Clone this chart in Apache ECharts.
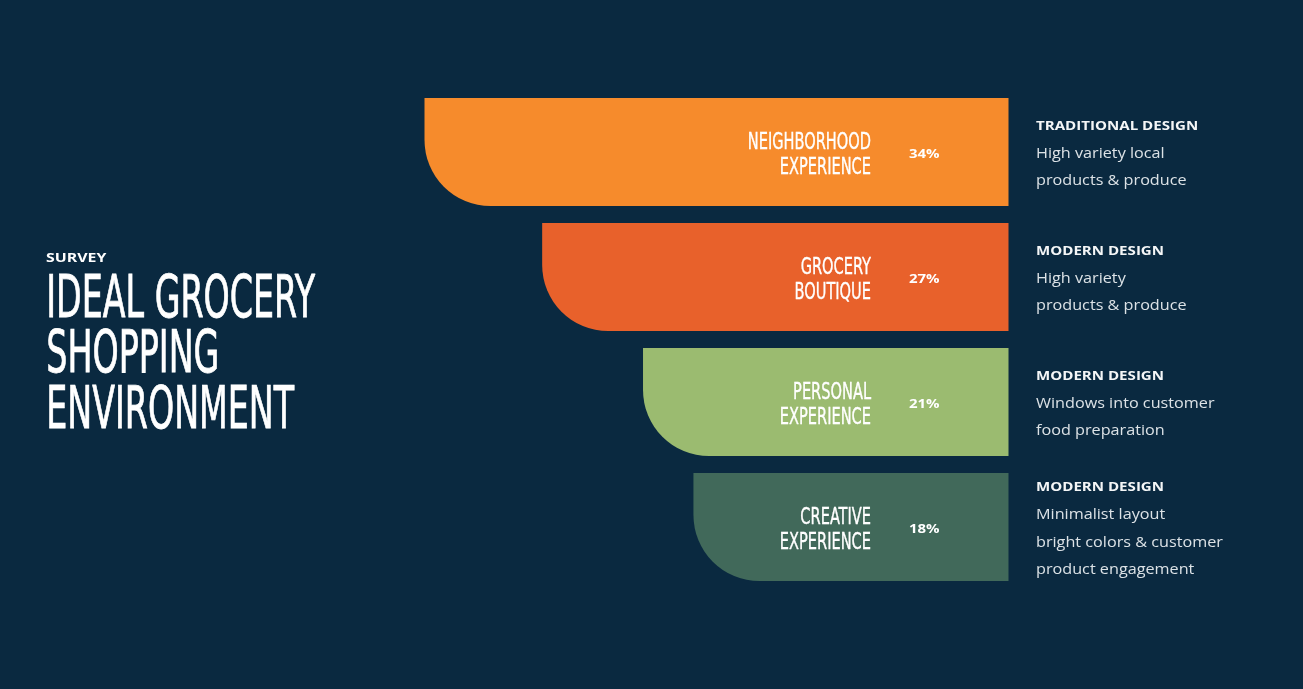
<!DOCTYPE html>
<html><head><meta charset="utf-8">
<script src="https://cdn.jsdelivr.net/npm/echarts@6/dist/echarts.min.js"></script>
<style>html,body{margin:0;padding:0;background:#0a2940;}#c{width:1303px;height:689px;}</style>
</head><body><div id="c"></div>
<script>
const categories = ['NEIGHBORHOOD\nEXPERIENCE', 'GROCERY\nBOUTIQUE', 'PERSONAL\nEXPERIENCE', 'CREATIVE\nEXPERIENCE'];
const values = [34, 27, 21, 18];
const colors = ['#f68b2c', '#e8612b', '#9bbb70', '#41695a'];
const designTypes = ['TRADITIONAL DESIGN', 'MODERN DESIGN', 'MODERN DESIGN', 'MODERN DESIGN'];
const descriptions = [
  ['High variety local', 'products & produce'],
  ['High variety', 'products & produce'],
  ['Windows into customer', 'food preparation'],
  ['Minimalist layout', 'bright colors & customer', 'product engagement']
];
const surveyLabel = 'SURVEY';
const titleLines = ['IDEAL GROCERY', 'SHOPPING', 'ENVIRONMENT'];

const NARROW = '"Liberation Sans Narrow", "DejaVu Sans Condensed", sans-serif';
const BODY = '"Open Sans", Lato, sans-serif';

function renderItem(params, api) {
  const i = params.dataIndex;
  const v = api.value(0);
  const c = api.value(1);
  const p0 = api.coord([0, c]);
  const p1 = api.coord([v, c]);
  const band = api.size([0, 1])[1];
  const h = band * 0.864;
  const right = p0[0] + 12.5;
  const left = p1[0];
  const cy = p0[1];
  const children = [{
    type: 'rect',
    shape: { x: left, y: cy - h / 2, width: right - left, height: h, r: [0, 0, 0, 66] },
    style: { fill: colors[i] }
  }];
  const lines = categories[i].split('\n');
  lines.forEach((t, k) => children.push({
    type: 'text', x: right - 137.5, y: cy + 3.5 + (k - (lines.length - 1) / 2) * 24.5,
    scaleX: 0.705,
    style: { text: t, font: '23px ' + NARROW, fill: '#ffffff', stroke: '#ffffff', lineWidth: 0.35, align: 'right', verticalAlign: 'middle' }
  }));
  children.push({
    type: 'text', x: right - 99.5, y: cy + 2, scaleX: 1.15,
    style: { text: v + '%', font: 'bold 13px ' + BODY, fill: '#ffffff', align: 'left', verticalAlign: 'middle' }
  });
  const desc = [designTypes[i]].concat(descriptions[i]);
  const n = desc.length;
  desc.forEach((t, k) => children.push({
    type: 'text', x: right + 27.5, y: cy + 1.5 + (k - (n - 1) / 2) * 27.5,
    scaleX: k === 0 ? 1.16 : 1.08,
    style: {
      text: t,
      font: (k === 0 ? 'bold 13px ' : '15px ') + BODY,
      fill: k === 0 ? '#f4f6f7' : '#dce2e6',
      align: 'left', verticalAlign: 'middle'
    }
  }));
  return { type: 'group', children };
}

const chart = echarts.init(document.getElementById('c'), null, { renderer: 'canvas' });
chart.setOption({
  backgroundColor: '#0a2940',
  animation: false,
  grid: { left: 424.5, right: 307, top: 89.5, height: 500 },
  xAxis: { type: 'value', inverse: true, min: 0, max: Math.max(...values), show: false },
  yAxis: { type: 'category', data: categories, inverse: true, show: false },
  graphic: [
    { type: 'text', x: 46, y: 258, scaleX: 1.22, style: { text: surveyLabel, font: 'bold 13px ' + BODY, fill: '#ffffff', verticalAlign: 'middle' } },
    ...titleLines.map((t, k) => ({
      type: 'text', x: 46.3, y: 302 + k * 55.3, scaleX: 0.638,
      style: { text: t, font: '58px ' + NARROW, fill: '#ffffff', stroke: '#ffffff', lineWidth: 0.8, verticalAlign: 'middle' }
    }))
  ],
  series: [{
    type: 'custom',
    renderItem,
    clip: false,
    encode: { x: 0, y: 1 },
    data: values.map((v, i) => [v, i])
  }]
});
</script>
</body></html>
